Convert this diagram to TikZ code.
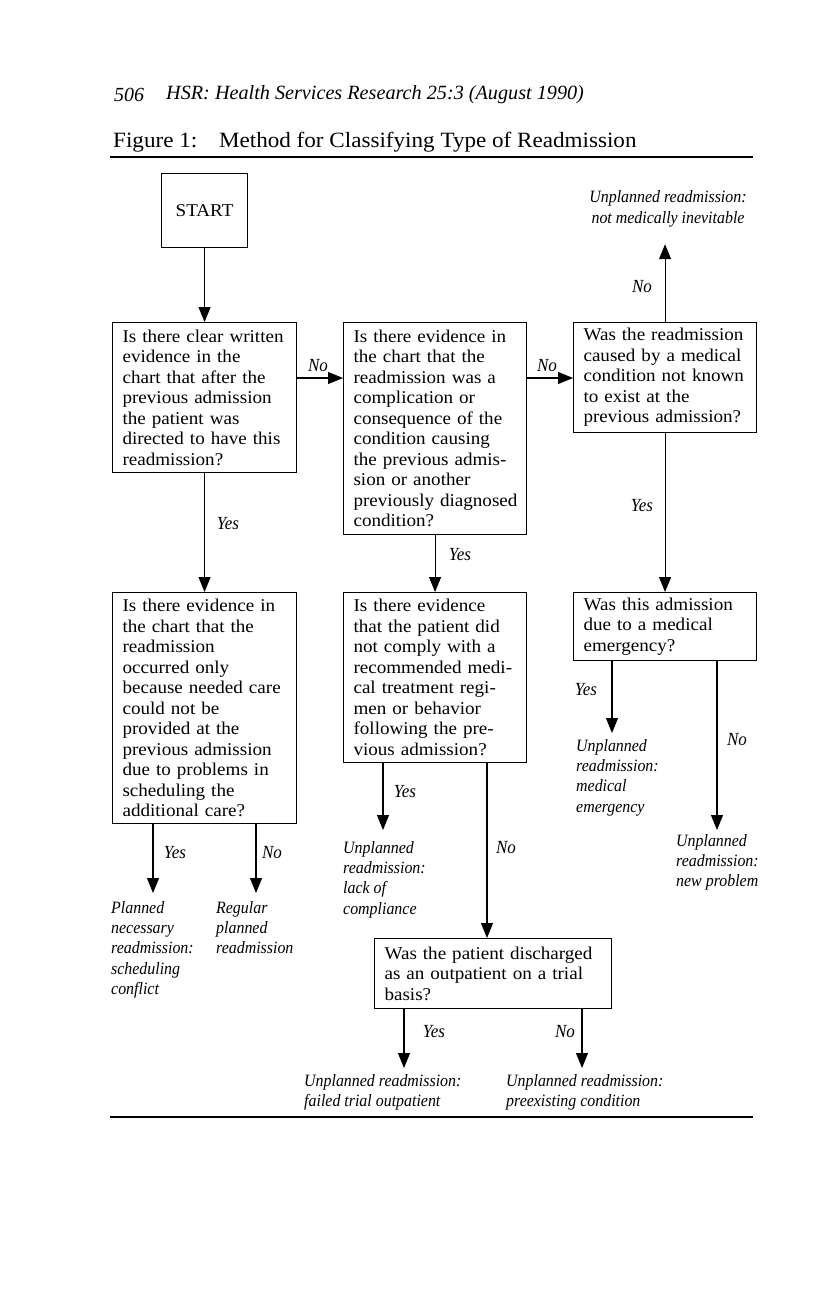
\documentclass[tikz,border=0pt]{standalone}
\usepackage{fontspec}
\setmainfont{Liberation Serif}[FakeStretch=1.06]
\newfontfamily\itfam{Liberation Serif}[FakeStretch=0.92]
\newfontfamily\hdfam{Liberation Serif}
\usetikzlibrary{arrows.meta}
\newcommand\boxfnt{\fontsize{18}{20.5}\selectfont}
\newcommand\outfnt{\itfam\fontsize{17.3}{20.3}\selectfont\itshape}
\newcommand\ynfnt{\itfam\fontsize{18.5}{20}\selectfont\itshape}
\tikzset{
  qbox/.style={draw, line width=1.1pt, anchor=north west, align=left, inner xsep=10pt, inner ysep=0pt, font=\boxfnt},
  outcome/.style={anchor=north west, align=left, inner sep=0pt, font=\outfnt},
  yn/.style={inner sep=0pt, font=\ynfnt},
  arr/.style={line width=1.1pt, -{Triangle[width=12pt,length=15pt]}},
  rule/.style={line width=1.3pt}
}
\begin{document}
\begin{tikzpicture}[x=1pt,y=-1pt]
\useasboundingbox (0,0) rectangle (816,1296);
% header
\node[anchor=west, inner sep=0pt, font=\hdfam\fontsize{20}{22}\selectfont\itshape] (pg) at (114,95) {506};
\node[anchor=west, inner sep=0pt, font=\hdfam\fontsize{20.2}{22}\selectfont\itshape] (jn) at (166,95) {HSR: Health Services Research 25:3 (August 1990)};
\node[anchor=west, inner sep=0pt, font=\fontsize{21.8}{24}\selectfont] (ttl) at (113,142) {Figure 1:\quad Method for Classifying Type of Readmission};
\coordinate (r1a) at (110,157); \coordinate (r1b) at (753,157);
\draw[rule] (r1a) -- (r1b);
\coordinate (r2a) at (110,1117); \coordinate (r2b) at (753,1117);
\draw[rule] (r2a) -- (r2b);

% boxes
\node[qbox, align=center, minimum width=86pt, minimum height=74pt] (start) at (161,173) {START};
\node[qbox, text width=164pt, minimum height=150pt] (b1) at (112,322) {Is there clear written\\ evidence in the\\ chart that after the\\ previous admission\\ the patient was\\ directed to have this\\ readmission?};
\node[qbox, text width=163pt, minimum height=212pt] (b2) at (343,322) {Is there evidence in\\ the chart that the\\ readmission was a\\ complication or\\ consequence of the\\ condition causing\\ the previous admis-\\ sion or another\\ \mbox{previously diagnosed}\\ condition?};
\node[qbox, text width=163pt, minimum height=110pt] (b3) at (573,322) {Was the readmission\\ caused by a medical\\ condition not known\\ to exist at the\\ previous admission?};
\node[qbox, text width=164pt, minimum height=231pt] (b4) at (112,592) {Is there evidence in\\ the chart that the\\ readmission\\ occurred only\\ because needed care\\ could not be\\ provided at the\\ previous admission\\ due to problems in\\ scheduling the\\ additional care?};
\node[qbox, text width=163pt, minimum height=170pt] (b5) at (343,592) {Is there evidence\\ that the patient did\\ not comply with a\\ recommended medi-\\ cal treatment regi-\\ men or behavior\\ following the pre-\\ vious admission?};
\node[qbox, text width=163pt, minimum height=68pt] (b6) at (573,592) {Was this admission\\ due to a medical\\ emergency?};
\node[qbox, text width=217pt, minimum height=70pt] (b7) at (374,938) {Was the patient discharged\\ as an outpatient on a trial\\ basis?};

% outcomes
\node[outcome, anchor=center, align=center] (otop) at (668,209) {Unplanned readmission:\\ not medically inevitable};
\node[outcome] (omed) at (576,739) {Unplanned\\ readmission:\\ medical\\ emergency};
\node[outcome] (onew) at (676,834) {Unplanned\\ readmission:\\ new problem};
\node[outcome] (olack) at (343,841) {Unplanned\\ readmission:\\ lack of\\ compliance};
\node[outcome] (osch) at (111,901) {Planned\\ necessary\\ readmission:\\ scheduling\\ conflict};
\node[outcome] (oreg) at (216,901) {Regular\\ planned\\ readmission};
\node[outcome] (ofail) at (304,1074) {Unplanned readmission:\\ failed trial outpatient};
\node[outcome] (opre) at (506,1074) {Unplanned readmission:\\ preexisting condition};

% connectors
\draw[arr] (start.south) -- (b1.north);
\draw[arr] ([yshift=-56pt]b1.north east) -- ([yshift=-56pt]b1.north east -| b2.west);
\draw[arr] ([yshift=-56pt]b2.north east) -- ([yshift=-56pt]b2.north east -| b3.west);
\draw[arr] (b3.north) -- ([yshift=-17pt]b3.north |- otop.south);
\draw[arr] (b1.south) -- (b4.north);
\draw[arr] (b2.south) -- (b5.north);
\draw[arr] (b3.south) -- (b6.north);
\coordinate (b6y) at ([xshift=39pt]b6.south west);
\draw[arr] (b6y) -- ([yshift=6pt]b6y |- omed.north);
\coordinate (b6n) at ([xshift=144pt]b6.south west);
\draw[arr] (b6n) -- ([yshift=4pt]b6n |- onew.north);
\coordinate (b5y) at ([xshift=40pt]b5.south west);
\draw[arr] (b5y) -- ([yshift=11pt]b5y |- olack.north);
\coordinate (b5n) at ([xshift=144pt]b5.south west);
\draw[arr] (b5n) -- (b5n |- b7.north);
\coordinate (b4y) at ([xshift=41pt]b4.south west);
\draw[arr] (b4y) -- ([yshift=8pt]b4y |- osch.north);
\coordinate (b4n) at ([xshift=144pt]b4.south west);
\draw[arr] (b4n) -- ([yshift=8pt]b4n |- oreg.north);
\coordinate (b7y) at ([xshift=30pt]b7.south west);
\draw[arr] (b7y) -- ([yshift=6pt]b7y |- ofail.north);
\coordinate (b7n) at ([xshift=208pt]b7.south west);
\draw[arr] (b7n) -- ([yshift=6pt]b7n |- opre.north);

% yes / no labels
\node[yn] (l1) at (318,366) {No};
\node[yn] (l2) at (547,366) {No};
\node[yn] (l3) at (642,287) {No};
\node[yn] (l4) at (228,524) {Yes};
\node[yn] (l5) at (460,555) {Yes};
\node[yn] (l6) at (642,506) {Yes};
\node[yn] (l7) at (586,690) {Yes};
\node[yn] (l8) at (737,740) {No};
\node[yn] (l9) at (405,792) {Yes};
\node[yn] (l10) at (506,848) {No};
\node[yn] (l11) at (175,853) {Yes};
\node[yn] (l12) at (272,853) {No};
\node[yn] (l13) at (434,1032) {Yes};
\node[yn] (l14) at (565,1032) {No};
\end{tikzpicture}
\end{document}
